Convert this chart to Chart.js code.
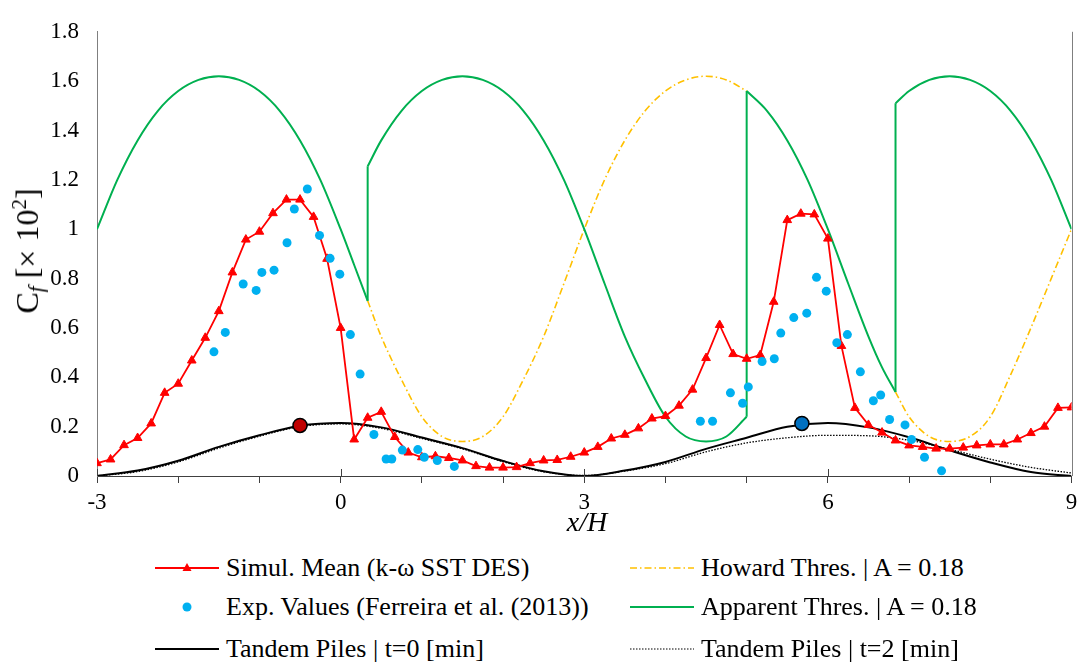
<!DOCTYPE html>
<html>
<head>
<meta charset="utf-8">
<title>Cf along the bed</title>
<script src="https://cdn.jsdelivr.net/npm/chart.js@4.4.1/dist/chart.umd.min.js"></script>
<style>
  body { margin: 0; background: #fff; overflow: hidden; }
  #wrap { position: relative; width: 1080px; height: 666px; font-family: "Liberation Serif", "DejaVu Serif", serif; color: #000; }
  #chart { position: absolute; left: 0; top: 0; }
  .ytitle { position: absolute; left: 28px; top: 251px; transform: translate(-50%, -50%) rotate(-90deg); font-size: 32px; white-space: nowrap; }
  .ytitle sub { font-size: 21px; vertical-align: -5px; }
  .ytitle sup { font-size: 21px; vertical-align: 12px; }
  .xtitle { position: absolute; left: 587px; top: 522px; transform: translate(-50%, -50%); font-size: 28px; font-style: italic; }
  .leg { position: absolute; height: 30px; display: flex; align-items: center; font-size: 26px; white-space: nowrap; }
  .leg svg { flex: none; margin-right: 7px; }
</style>
</head>
<body>
<div id="wrap">
  <canvas id="chart" width="1080" height="520"></canvas>
  <div class="ytitle">C<sub><i>f</i></sub> [× 10<sup>2</sup>]</div>
  <div class="xtitle">x/H</div>

  <div class="leg" style="left:155px;top:553px">
    <svg width="64" height="20"><line x1="0" y1="10" x2="64" y2="10" stroke="#FF0000" stroke-width="2"/><polygon points="32,5 27.5,13 36.5,13" fill="#FF0000"/></svg>
    <span>Simul. Mean (k-ω SST DES)</span>
  </div>
  <div class="leg" style="left:155px;top:592px">
    <svg width="64" height="20"><circle cx="32" cy="10" r="4.5" fill="#00B0F0"/></svg>
    <span>Exp. Values (Ferreira et al. (2013))</span>
  </div>
  <div class="leg" style="left:155px;top:634px">
    <svg width="64" height="20"><line x1="0" y1="10" x2="64" y2="10" stroke="#000" stroke-width="2"/></svg>
    <span>Tandem Piles | t=0 [min]</span>
  </div>
  <div class="leg" style="left:630px;top:553px">
    <svg width="64" height="20"><line x1="0" y1="10" x2="64" y2="10" stroke="#FFC000" stroke-width="1.5" stroke-dasharray="7,3,1.5,3"/></svg>
    <span>Howard Thres. | A = 0.18</span>
  </div>
  <div class="leg" style="left:630px;top:592px">
    <svg width="64" height="20"><line x1="0" y1="10" x2="64" y2="10" stroke="#00B050" stroke-width="2"/></svg>
    <span>Apparent Thres. | A = 0.18</span>
  </div>
  <div class="leg" style="left:630px;top:634px">
    <svg width="64" height="20"><line x1="0" y1="10" x2="64" y2="10" stroke="#000" stroke-width="1.2" stroke-dasharray="1.5,1.5"/></svg>
    <span>Tandem Piles | t=2 [min]</span>
  </div>
</div>

<script>
// simulated mean Cf (k-omega SST DES)
var simX = [-3,-2.833,-2.667,-2.5,-2.333,-2.167,-2,-1.833,-1.667,-1.5,-1.333,-1.167,-1,-0.833,-0.667,-0.5,-0.333,-0.167,0,0.167,0.333,0.5,0.667,0.833,1,1.167,1.333,1.5,1.667,1.833,2,2.167,2.333,2.5,2.667,2.833,3,3.167,3.333,3.5,3.667,3.833,4,4.167,4.333,4.5,4.667,4.833,5,5.167,5.333,5.5,5.667,5.833,6,6.167,6.333,6.5,6.667,6.833,7,7.167,7.333,7.5,7.667,7.833,8,8.167,8.333,8.5,8.667,8.833,9];
var simY = [0.052,0.067,0.125,0.154,0.213,0.337,0.374,0.468,0.56,0.668,0.825,0.958,0.99,1.065,1.12,1.12,1.05,0.88,0.60,0.148,0.236,0.26,0.158,0.095,0.076,0.08,0.073,0.063,0.04,0.034,0.034,0.036,0.052,0.063,0.065,0.078,0.095,0.118,0.152,0.167,0.193,0.233,0.243,0.285,0.35,0.478,0.612,0.494,0.475,0.49,0.706,1.037,1.063,1.06,0.962,0.527,0.276,0.207,0.176,0.144,0.124,0.118,0.111,0.111,0.115,0.124,0.128,0.128,0.148,0.174,0.2,0.276,0.278];

// experimental values (Ferreira et al. 2013)
var expX = [-1.56,-1.42,-1.20,-1.04,-0.97,-0.82,-0.66,-0.57,-0.41,-0.26,-0.13,-0.01,0.12,0.24,0.41,0.56,0.63,0.76,0.95,1.03,1.19,1.40,4.43,4.58,4.80,4.95,5.02,5.19,5.34,5.42,5.58,5.74,5.86,5.98,6.11,6.24,6.40,6.56,6.65,6.76,6.95,7.03,7.19,7.40];
var expY = [0.503,0.582,0.778,0.752,0.825,0.834,0.945,1.082,1.163,0.975,0.882,0.818,0.573,0.413,0.168,0.069,0.069,0.105,0.107,0.076,0.063,0.039,0.222,0.222,0.337,0.295,0.361,0.464,0.475,0.579,0.642,0.66,0.805,0.749,0.54,0.573,0.422,0.305,0.328,0.229,0.207,0.148,0.076,0.021];

// Howard threshold, only where it leaves the apparent threshold (null = gap)
var howX = [0.333,0.5,0.75,1,1.25,1.5,1.75,2,2.25,2.5,2.75,3,3.25,3.5,3.75,4,4.25,4.5,4.75,5,5,6.833,7,7.25,7.5,7.75,8,8.25,8.5,8.75,9];
var howY = [0.71,0.565,0.39,0.24,0.16,0.14,0.16,0.24,0.39,0.565,0.78,1.00,1.20,1.36,1.48,1.56,1.605,1.62,1.605,1.56,null,0.34,0.24,0.16,0.14,0.16,0.24,0.41,0.6,0.8,1.00];

// apparent threshold, smooth parts (null = jump)
var appX = [-3,-2.75,-2.5,-2.25,-2,-1.75,-1.5,-1.25,-1,-0.75,-0.5,-0.25,0,0.167,0.333,0.333,0.333,0.5,0.75,1,1.25,1.5,1.75,2,2.25,2.5,2.75,3,3.25,3.5,3.75,4,4.25,4.5,4.75,5,5,5,5.25,5.5,5.75,6,6.25,6.5,6.667,6.833,6.833,6.833,7,7.25,7.5,7.75,8,8.25,8.5,8.75,9];
var appY = [1.00,1.20,1.36,1.48,1.56,1.605,1.62,1.605,1.56,1.48,1.36,1.20,1.00,0.855,0.71,null,1.255,1.36,1.48,1.56,1.605,1.62,1.605,1.56,1.48,1.36,1.20,1.00,0.78,0.565,0.39,0.24,0.16,0.14,0.16,0.24,null,1.56,1.48,1.36,1.20,1.00,0.78,0.565,0.44,0.34,null,1.51,1.56,1.605,1.62,1.605,1.56,1.48,1.36,1.20,1.00];
// apparent threshold, vertical jumps
var jumpX = [0.333,0.333,0.333,5,5,5,6.833,6.833];
var jumpY = [0.71,1.255,null,0.24,1.56,null,0.34,1.51];

// tandem piles bed shape
var pileX = [-3,-2.5,-2,-1.5,-1,-0.5,0,0.5,1,1.5,2,2.5,3,3.5,4,4.5,5,5.5,6,6.5,7,7.5,8,8.5,9];
var pile0Y = [0,0.022,0.062,0.118,0.165,0.204,0.215,0.197,0.156,0.113,0.061,0.019,0,0.022,0.057,0.11,0.155,0.2,0.215,0.197,0.157,0.104,0.055,0.016,0];
var pile2Y = [0,0.018,0.057,0.113,0.161,0.2,0.211,0.193,0.152,0.11,0.058,0.017,0.002,0.02,0.05,0.098,0.134,0.155,0.165,0.163,0.145,0.108,0.068,0.035,0.012];

// pile markers
var markX = [-0.5, 5.68];
var markY = [0.205, 0.213];

var xMajor = [-3, 0, 3, 6, 9];

function pts(xs, ys) {
    var out = [];
    for (var i = 0; i < xs.length; i++) out.push({ x: xs[i], y: ys[i] });
    return out;
}

// longer major ticks on x and a thin right frame line
var axisExtras = {
    id: 'axisExtras',
    afterDraw: function(chart) {
        var ctx = chart.ctx, sx = chart.scales.x, a = chart.chartArea;
        ctx.save();
        ctx.strokeStyle = '#404040';
        ctx.lineWidth = 1;
        xMajor.forEach(function(v) {
            var px = Math.round(sx.getPixelForValue(v)) + 0.5;
            ctx.beginPath();
            ctx.moveTo(px, a.bottom - 7);
            ctx.lineTo(px, a.bottom);
            ctx.stroke();
        });
        ctx.strokeStyle = '#7f7f7f';
        ctx.beginPath();
        ctx.moveTo(Math.round(a.right) + 0.5, a.top);
        ctx.lineTo(Math.round(a.right) + 0.5, a.bottom);
        ctx.stroke();
        ctx.restore();
    }
};

var serif = "'Liberation Serif', 'DejaVu Serif', serif";

new Chart(document.getElementById('chart'), {
    type: 'scatter',
    data: {
        datasets: [{
            label: 'Howard Thres. | A = 0.18',
            data: pts(howX, howY),
            showLine: true,
            borderColor: '#FFC000',
            borderWidth: 1.6,
            borderDash: [7, 3, 1.5, 3],
            pointRadius: 0,
            cubicInterpolationMode: 'monotone',
            order: 8
        }, {
            label: 'Apparent Thres. | A = 0.18',
            data: pts(appX, appY),
            showLine: true,
            borderColor: '#00B050',
            borderWidth: 2,
            pointRadius: 0,
            cubicInterpolationMode: 'monotone',
            order: 7
        }, {
            label: 'jumps',
            data: pts(jumpX, jumpY),
            showLine: true,
            borderColor: '#00B050',
            borderWidth: 2,
            pointRadius: 0,
            order: 7
        }, {
            label: 'Tandem Piles | t=2 [min]',
            data: pts(pileX, pile2Y),
            showLine: true,
            borderColor: '#000',
            borderWidth: 1.3,
            borderDash: [1.5, 1.5],
            pointRadius: 0,
            cubicInterpolationMode: 'monotone',
            order: 6
        }, {
            label: 'Tandem Piles | t=0 [min]',
            data: pts(pileX, pile0Y),
            showLine: true,
            borderColor: '#000',
            borderWidth: 2,
            pointRadius: 0,
            cubicInterpolationMode: 'monotone',
            order: 5
        }, {
            label: 'Simul. Mean (k-ω SST DES)',
            data: pts(simX, simY),
            showLine: true,
            borderColor: '#FF0000',
            backgroundColor: '#FF0000',
            borderWidth: 1.8,
            pointStyle: 'triangle',
            pointRadius: 5,
            pointBorderWidth: 1,
            order: 4
        }, {
            label: 'Exp. Values (Ferreira et al. (2013))',
            data: pts(expX, expY),
            borderColor: '#00B0F0',
            backgroundColor: '#00B0F0',
            pointRadius: 4.5,
            pointBorderWidth: 0,
            order: 3
        }, {
            label: 'markers',
            data: pts(markX, markY),
            backgroundColor: ['#C00000', '#0070C0'],
            borderColor: '#000',
            pointRadius: 7,
            pointBorderWidth: 1.5,
            order: 1
        }]
    },
    options: {
        responsive: false,
        animation: false,
        layout: { padding: { left: 0, top: 17, right: 4, bottom: 0 } },
        plugins: {
            legend: { display: false },
            tooltip: { enabled: false }
        },
        scales: {
            x: {
                type: 'linear',
                min: -3,
                max: 9,
                afterFit: function(s) { s.height = 44; s.paddingRight = 4; },
                border: { display: true, color: '#404040', width: 1 },
                grid: { drawOnChartArea: false, drawTicks: true, tickLength: 7, color: '#404040' },
                ticks: {
                    stepSize: 1,
                    autoSkip: false,
                    maxRotation: 0,
                    padding: 6,
                    color: '#000',
                    font: { family: serif, size: 23 },
                    callback: function(v) { return xMajor.indexOf(v) >= 0 ? String(v) : ''; }
                }
            },
            y: {
                min: 0,
                max: 1.8,
                afterFit: function(s) { s.width = 97; },
                border: { display: true, color: '#7f7f7f', width: 1 },
                grid: { drawOnChartArea: false, drawTicks: false },
                ticks: {
                    stepSize: 0.2,
                    padding: 18,
                    color: '#000',
                    font: { family: serif, size: 23 },
                    callback: function(v) { return String(+v.toFixed(1)); }
                }
            }
        }
    },
    plugins: [axisExtras]
});
</script>
</body>
</html>
